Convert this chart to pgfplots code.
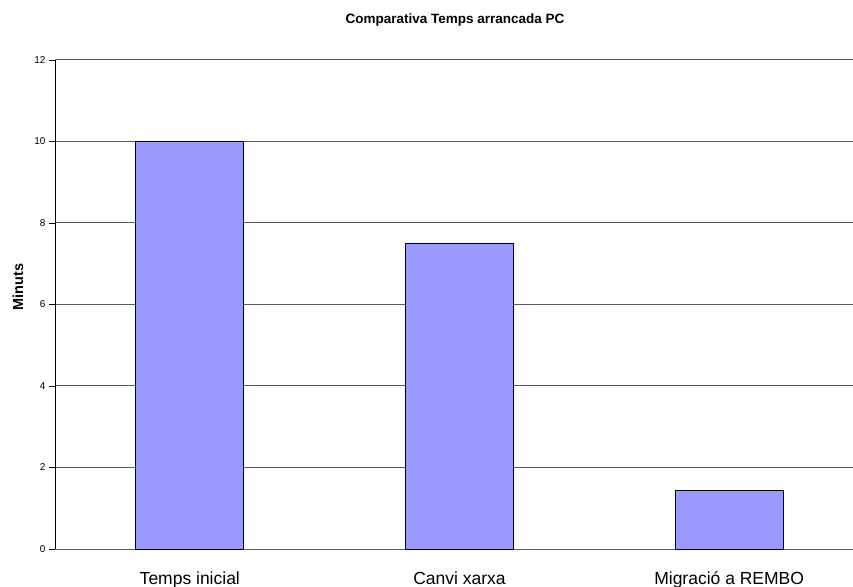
\documentclass[border=0pt]{standalone}
\usepackage{pgfplots}
\pgfplotsset{compat=1.18}
\usepackage{fontspec}
\setmainfont{Liberation Sans}
\definecolor{barblue}{HTML}{9999FF}
\definecolor{gridgray}{HTML}{5A5A5A}
\begin{document}
\begin{tikzpicture}[x=1pt,y=1pt]
\begin{axis}[
  at={(0pt,0pt)}, anchor=south west,
  scale only axis, width=809pt, height=489pt,
  xmin=0, xmax=3, ymin=0, ymax=12,
  axis x line*=bottom, axis y line*=left,
  x axis line style={gridgray, line width=1pt, -},
  y axis line style={black, line width=1pt, -},
  xtick={0.5,1.5,2.5},
  xticklabels={Temps inicial, Canvi xarxa, Migració a REMBO},
  x tick style={draw=none},
  extra x ticks={1,2},
  extra x tick labels={},
  extra x tick style={tick style={draw=black, line width=0.8pt}, major tick length=5pt, tick align=outside, grid=none},
  xticklabel style={font=\fontsize{17.5}{20}\selectfont, anchor=base, yshift=-29pt},
  ytick={0,2,...,12},
  y tick style={black, line width=0.8pt},
  major tick length=6pt, tick align=outside,
  yticklabel style={font=\fontsize{10}{12}\selectfont},
  /pgf/number format/assume math mode=true,
  ymajorgrids, major grid style={gridgray, line width=1pt},
  clip=false,
]
\addplot[ybar, bar width=108pt, fill=barblue, draw=black, line width=1pt]
  coordinates {(0.5,10) (1.5,7.5) (2.5,1.44)};
\end{axis}
\node[font=\bfseries\fontsize{13.5}{16}\selectfont] at (400pt,529pt) {Comparativa Temps arrancada PC};
\node[font=\bfseries\fontsize{14.5}{17}\selectfont, rotate=90] at (-37pt,262pt) {Minuts};
\pgfresetboundingbox
\useasboundingbox (-55pt,-37pt) rectangle (798pt,549pt);
\end{tikzpicture}
\end{document}
